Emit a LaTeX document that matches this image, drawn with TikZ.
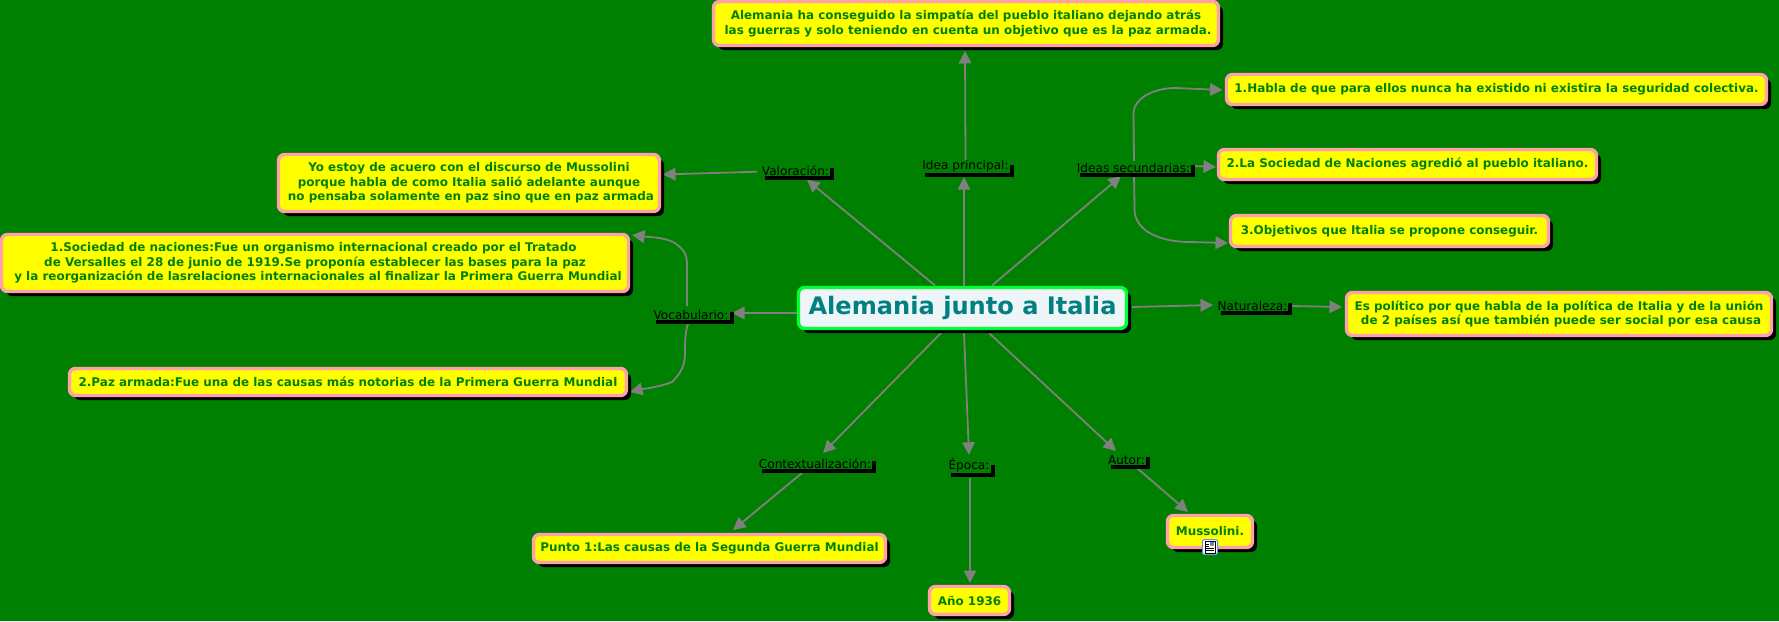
\documentclass[tikz,border=0pt]{standalone}
\usepackage{fontspec}
\setmainfont{DejaVu Sans}
\usetikzlibrary{arrows.meta,calc,shadows,backgrounds}
\definecolor{bggreen}{RGB}{0,128,0}
\definecolor{pinkb}{RGB}{255,160,170}
\definecolor{lime}{RGB}{0,255,51}
\definecolor{pale}{RGB}{238,245,248}
\definecolor{tealt}{RGB}{0,128,128}
\definecolor{conn}{RGB}{128,128,128}
\definecolor{yel}{RGB}{255,255,0}
\definecolor{iconb}{RGB}{90,150,230}
\definecolor{iconp}{RGB}{90,130,210}
\definecolor{icono}{RGB}{200,150,90}
\tikzset{
 leaf/.style={draw=pinkb,fill=yel,line width=3.4pt,rounded corners=6pt,inner sep=0pt,outer sep=0pt,align=center,text=bggreen,
   font=\fontsize{11.95pt}{14.6pt}\selectfont\bfseries,
   drop shadow={shadow xshift=4.5pt,shadow yshift=-4.5pt,fill=black,opacity=1}},
 hub/.style={draw=lime,fill=pale,line width=3.4pt,rounded corners=6pt,inner sep=0pt,outer sep=0pt,align=center,text=tealt,
   font=\fontsize{24.1pt}{30pt}\selectfont\bfseries,
   drop shadow={shadow xshift=4.5pt,shadow yshift=-4.5pt,fill=black,opacity=1}},
 lab/.style={fill=bggreen,inner sep=0pt,outer sep=0pt,text=black,text height=11.5pt,text depth=0.5pt,
   font=\fontsize{12.1pt}{14pt}\selectfont,
   drop shadow={shadow xshift=4pt,shadow yshift=-4pt,fill=black,opacity=1}},
 labd/.style={lab,text height=8.5pt,text depth=3.5pt},
 arr/.style={draw=conn,line width=1.8pt,-{Triangle[length=12.5pt,width=12.5pt]}},
}
\begin{document}
\begin{tikzpicture}[x=1pt,y=-1pt]
\useasboundingbox (0,0) rectangle (1779,621);
% leaves
\node[leaf,minimum width=505pt,minimum height=44pt] (top) at (966,23.5) {Alemania ha conseguido la simpatía del pueblo italiano dejando atrás\\\hspace*{4pt}las guerras y solo teniendo en cuenta un objetivo que es la paz armada.};
\node[leaf,minimum width=540pt,minimum height=30pt] (hab) at (1496.5,89.5) {1.Habla de que para ellos nunca ha existido ni existira la seguridad colectiva.};
\node[leaf,minimum width=378pt,minimum height=30pt] (soc) at (1407.5,164.5) {2.La Sociedad de Naciones agredió al pueblo italiano.};
\node[leaf,minimum width=318pt,minimum height=31pt] (obj) at (1389.5,231) {3.Objetivos que Italia se propone conseguir.};
\node[leaf,minimum width=425pt,minimum height=43pt] (es) at (1559,314) {Es político por que habla de la política de Italia y de la unión\\\hspace*{4pt}de 2 países así que también puede ser social por esa causa};
\node[leaf,minimum width=381pt,minimum height=57pt] (yo) at (469,183) {Yo estoy de acuero con el discurso de Mussolini\\porque habla de como Italia salió adelante aunque\\\hspace*{4pt}no pensaba solamente en paz sino que en paz armada};
\node[leaf,minimum width=352pt,minimum height=28pt] (punto) at (709.5,548.5) {Punto 1:Las causas de la Segunda Guerra Mundial};
\node[leaf,minimum width=80pt,minimum height=28pt] (ano) at (969.5,600.5) {Año 1936};
\node[leaf,minimum width=85pt,minimum height=32pt] (mus) at (1210,531.5) {Mussolini.};
\node[leaf,minimum width=627pt,minimum height=57pt] (socn) at (315,263) {1.Sociedad de naciones:Fue un organismo internacional creado por el Tratado\hspace*{3pt}\\de Versalles el 28 de junio de 1919.Se proponía establecer las bases para la paz\\\hspace*{6pt}y la reorganización de lasrelaciones internacionales al finalizar la Primera Guerra Mundial};
\node[leaf,minimum width=557pt,minimum height=27pt] (paz) at (348,382) {2.Paz armada:Fue una de las causas más notorias de la Primera Guerra Mundial};
% hub
\node[hub,minimum width=328pt,minimum height=41pt] (central) at (962.5,308) {Alemania junto a Italia};
% labels
\node[lab,minimum width=69pt] (val) at (795.5,169.7) {Valoración:};
\node[labd,minimum width=89pt] (idea) at (965.5,166.7) {Idea principal:};
\node[lab,minimum width=115pt] (ideas) at (1133.5,167) {Ideas secundarias:};
\node[lab,minimum width=78pt] (voc) at (691,314) {Vocabulario:};
\node[lab,minimum width=71pt] (nat) at (1252.5,305) {Naturaleza:};
\node[lab,minimum width=114pt] (ctx) at (815,463) {Contextualización:};
\node[labd,minimum width=44pt] (epo) at (969,467.3) {Época:};
\node[lab,minimum width=39pt] (aut) at (1126.5,459) {Autor:};
% note icon
\node[draw=iconb,fill=white,line width=1pt,rounded corners=2pt,minimum size=15pt,inner sep=0pt] (icon) at (1210,547) {};
\draw[black,line width=0.8pt,fill=white] ($(icon.center)+(-5,-6)$) rectangle ($(icon.center)+(5,6)$);
\fill[iconp] ($(icon.center)+(0,-5)$) rectangle ($(icon.center)+(4,-2.5)$);
\fill[icono] ($(icon.center)+(0,-2.5)$) rectangle ($(icon.center)+(4,-1)$);
\draw[black,line width=0.7pt] ($(icon.center)+(-4,-3)$) -- ($(icon.center)+(-1,-3)$)
  ($(icon.center)+(-4,-0.5)$) -- ($(icon.center)+(-1,-0.5)$)
  ($(icon.center)+(-4,1.5)$) -- ($(icon.center)+(4,1.5)$)
  ($(icon.center)+(-4,3.5)$) -- ($(icon.center)+(4,3.5)$);
\begin{pgfonlayer}{background}
\fill[bggreen] (0,0) rectangle (1779,621);
\draw[arr] ($(central.north)+(1.5,0)$) -- ($(idea.south)+(-1.5,4.5)$);
\draw[arr] ($(idea.north)+(0,0)$) -- ($(top.south)+(-1,5.5)$);
\draw[arr] ($(central.north)+(-27.5,-2)$) -- ($(val.south)+(11.5,4)$);
\draw[arr] ($(central.north)+(29.5,-2)$) -- ($(ideas.south)+(-12.5,3)$);
\draw[arr] ($(central.west)+(-1.5,5)$) -- ($(voc.east)+(2,-1)$);
\draw[arr] ($(central.east)+(5.5,-1)$) -- ($(nat.west)+(-4,0)$);
\draw[arr] ($(nat.east)+(3,1)$) -- ($(es.west)+(-4.5,-7)$);
\draw[arr] ($(ideas.east)+(3,-1)$) -- ($(soc.west)+(-2.5,2.5)$);
\draw[arr] ($(ideas.north)+(0.5,0)$) -- ++(-0.5,-47) .. controls +(0,-17) and +(-20,0) .. ++(42,-26) -- ($(hab.west)+(-4,0.5)$);
\draw[arr] ($(ideas.south)+(0.5,0)$) -- ++(0.5,36) .. controls +(0,22) and +(-30,0) .. ++(55.5,33) -- ($(obj.west)+(-2.5,12)$);
\draw[arr] ($(central.south)+(-21.5,4.5)$) -- ($(ctx.north)+(8,-4)$);
\draw[arr] ($(central.south)+(1.5,4.5)$) -- ($(epo.north)+(0,-6.5)$);
\draw[arr] ($(central.south)+(26.5,4.5)$) -- ($(aut.north)+(-10.5,-2)$);
\draw[arr] ($(ctx.south)+(-13,4)$) -- ($(punto.north)+(23.5,-4.5)$);
\draw[arr] ($(epo.south)+(1,4.5)$) -- ($(ano.north)+(0.5,-3.5)$);
\draw[arr] ($(aut.south)+(10.5,3)$) -- ($(mus.north)+(-22,-3.5)$);
\draw[arr] ($(val.west)+(-4,2)$) -- ($(yo.east)+(3.5,-8.5)$);
\draw[arr] ($(voc.north)+(-4,-2)$) -- ++(0,-42) .. controls +(0,-12) and +(8,5) .. ++(-14,-22) .. controls +(-10,-5) and +(15,2) .. ($(socn.east)+(3.5,-28)$);
\draw[arr] ($(voc.south)+(-3,4)$) .. controls +(-3,8) and +(0,-10) .. ++(-3,30) .. controls +(0,14) and +(6,-6) .. ++(-13,28) .. controls +(-12,5) and +(12,-3) .. ($(paz.east)+(3.5,10)$);
\end{pgfonlayer}
\end{tikzpicture}
\end{document}
